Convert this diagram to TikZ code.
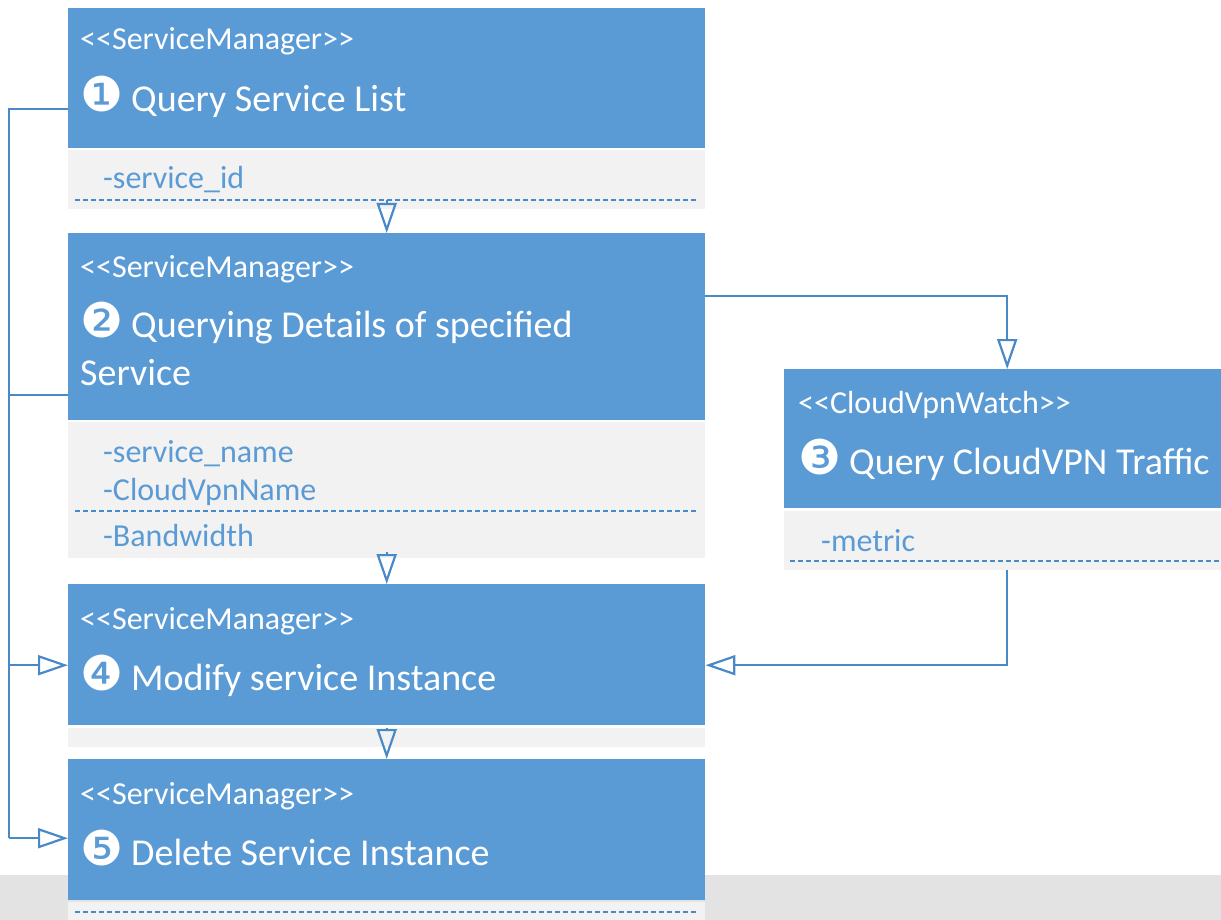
\documentclass[tikz,border=0pt]{standalone}
\usepackage{fontspec}
\setmainfont{Carlito}
\newfontfamily\dingfont{DejaVu Sans}
\usetikzlibrary{positioning, arrows.meta}
\definecolor{umlblue}{HTML}{5B9BD5}
\definecolor{umlgrey}{HTML}{F2F2F2}
\definecolor{umlline}{HTML}{4A89C8}
\definecolor{bandgrey}{HTML}{E3E3E3}
\newcommand{\numdot}[1]{{\dingfont\fontsize{48}{48}\selectfont #1}\hspace{8pt}}
\newcommand{\sm}{{<}{<}ServiceManager{>}{>}}
\tikzset{
  head/.style={fill=umlblue, inner sep=0pt, anchor=north west, minimum width=637pt},
  attrbox/.style={fill=umlgrey, inner sep=0pt, anchor=north west, minimum width=637pt},
  stereo/.style={text=white, font=\fontsize{32}{34}\selectfont, anchor=base west, inner sep=0pt},
  title/.style={text=white, font=\fontsize{38}{48}\selectfont, anchor=base west, inner sep=0pt},
  attr/.style={text=umlblue, font=\fontsize{32}{34}\selectfont, anchor=base west, inner sep=0pt},
  sep/.style={umlline, dash pattern=on 5pt off 3pt, line width=2pt},
  link/.style={umlline, line width=2.2pt},
  gen/.style={link, -{Triangle[open, width=20pt, length=30pt]}},
}

\begin{document}
\begin{tikzpicture}[x=1pt, y=-1pt]
  \useasboundingbox (0,0) rectangle (1221,920);
  \fill[bandgrey] (0,875) rectangle (1221,920);

  % class boxes
  \node[head, minimum height=140pt] (list) at (68,8) {};
  \node[attrbox, minimum height=59pt] (list-attr) at (68,150) {};
  \node[head, minimum height=187pt] (detail) at (68,233) {};
  \node[attrbox, minimum height=136pt] (detail-attr) at (68,422) {};
  \node[head, minimum height=141pt] (modify) at (68,584) {};
  \node[attrbox, minimum height=19pt] (modify-attr) at (68,728) {};
  \node[head, minimum height=141pt] (delete) at (68,759) {};
  \node[attrbox, minimum height=20pt] (delete-attr) at (68,902) {};
  \node[head, minimum width=446pt, minimum height=139pt] (watch) at (784,369) {};
  \node[attrbox, minimum width=446pt, minimum height=59pt] (watch-attr) at (784,511) {};

  % texts
  \node[stereo] (list-st) at (80,50) {\sm};
  \node[title] (list-ti) at (80,112) {\numdot{❶}Query Service List};
  \node[attr] (list-a1) at (103,189) {-service\_id};
  \node[stereo] (detail-st) at (80,277) {\sm};
  \node[title] (detail-ti) at (80,337) {\numdot{❷}Querying Details of specified};
  \node[title] (detail-ti2) at (80,385) {Service};
  \node[attr] (detail-a1) at (103,462) {-service\_name};
  \node[attr] (detail-a2) at (103,500) {-CloudVpnName};
  \node[attr] (detail-a3) at (103,546) {-Bandwidth};
  \node[stereo] (modify-st) at (80,629) {\sm};
  \node[title] (modify-ti) at (80,690) {\numdot{❹}Modify service Instance};
  \node[stereo] (delete-st) at (80,804) {\sm};
  \node[title] (delete-ti) at (80,865) {\numdot{❺}Delete Service Instance};
  \node[stereo] (watch-st) at (798,413) {{<}{<}CloudVpnWatch{>}{>}};
  \node[title] (watch-ti) at (798,474) {\numdot{❸}Query CloudVPN Traffic};
  \node[attr] (watch-a1) at (821,551) {-metric};

  % separators
  \draw[sep] (75,200) -- (697,200);
  \draw[sep] (75,511) -- (697,511);
  \draw[sep] (75,912) -- (697,912);
  \draw[sep] (790,561) -- (1221,561);

  % connectors
  \coordinate (bus) at (9,0);
  \draw[gen] ([yshift=9pt]list-attr.south) -- (detail.north);
  \draw[gen] ([yshift=6pt]detail-attr.south) -- (modify.north);
  \draw[gen] (modify-attr.north) -- (delete.north);
  \draw[gen] ([yshift=30.5pt]detail.east) -| (watch.north);
  \draw[gen] (watch-attr.south) |- ([yshift=-10.5pt]modify.east);
  \draw[link] ([yshift=-31pt]list.west) -| ([yshift=-8.5pt]delete.west -| bus);
  \draw[link] ([yshift=-68.5pt]detail.west) -- ([yshift=-68.5pt]detail.west -| bus);
  \draw[gen] ([yshift=-10.5pt]modify.west -| bus) -- ([yshift=-10.5pt]modify.west);
  \draw[gen] ([yshift=-8.5pt]delete.west -| bus) -- ([yshift=-8.5pt]delete.west);
\end{tikzpicture}
\end{document}
